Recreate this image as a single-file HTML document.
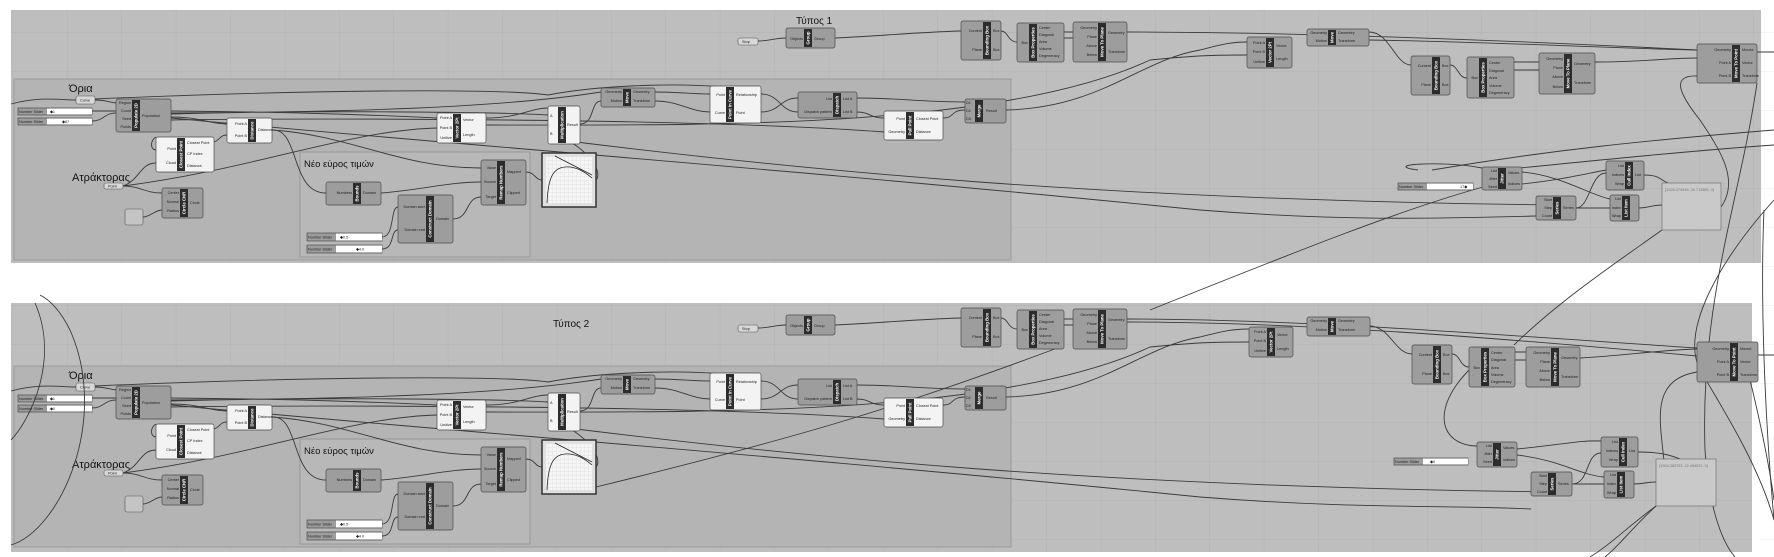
<!DOCTYPE html>
<html><head><meta charset="utf-8"><style>
html,body{margin:0;padding:0;background:#fff;}
svg{display:block}
.g{fill:#9d9d9d;stroke:#4a4a4a;stroke-width:.7}
.w{fill:#f3f3f3;stroke:#4a4a4a;stroke-width:.7}
.p{fill:#d8d8d8;stroke:#555;stroke-width:.6}
.s{fill:#2c2c2c}
.v{fill:#fff;font:bold 4.3px "Liberation Sans",sans-serif;text-anchor:middle}
.l{fill:#222;font:3.8px "Liberation Sans",sans-serif}
.r{fill:#222;font:3.8px "Liberation Sans",sans-serif;text-anchor:end}
.wr{fill:none;stroke:#3a3a3a;stroke-width:.9}
.t{fill:#111;font:11px "Liberation Sans","DejaVu Sans",sans-serif}
</style></head><body>
<svg width="1774" height="557" viewBox="0 0 1774 557" xmlns="http://www.w3.org/2000/svg">
<defs>
<pattern id="grid" x="12.6" y="32" width="54.4" height="39" patternUnits="userSpaceOnUse">
<path d="M0 0V39M0 0H54.4" stroke="#aeaeae" stroke-width=".7" fill="none"/></pattern>
<pattern id="gridw" x="12.6" y="32" width="54.4" height="39" patternUnits="userSpaceOnUse">
<path d="M0 0V39M0 0H54.4" stroke="#e6e6e6" stroke-width=".7" fill="none"/></pattern>
<pattern id="mg" width="4" height="4" patternUnits="userSpaceOnUse"><path d="M0 0V4M0 0H4" stroke="#ccc" stroke-width=".4" fill="none"/></pattern>
</defs>
<rect width="1774" height="557" fill="#fff"/>
<rect x="1760" y="0" width="14" height="557" fill="url(#gridw)"/>
<!-- panels -->
<rect x="11" y="10" width="1750" height="253" fill="#bebebe"/>
<rect x="11" y="10" width="1750" height="253" fill="url(#grid)"/>
<rect x="11" y="303" width="1741" height="249" fill="#bebebe"/>
<rect x="11" y="303" width="1741" height="249" fill="url(#grid)"/>

<!-- ============ TOP LEFT/MID ============ -->
<g id="top">
<rect x="14" y="79" width="997" height="181" fill="#b3b3b3" fill-opacity=".85" stroke="#9a9a9a"/>
<rect x="300" y="152" width="230" height="105" fill="#b8b8b8" stroke="#999"/>
<text class="t" x="69" y="92">Όρια</text>
<text class="t" x="72" y="181">Ατράκτορας</text>
<text class="t" x="304" y="167" style="font-size:9.5px">Νέο εύρος τιμών</text>
<text class="t" x="796" y="24" style="font-size:10px">Τύπος 1</text>
<!-- wires -->
<path class="wr" d="M11 104C40 96 60 100 76 100M95 100C105 100 108 102 116 103"/>
<path class="wr" d="M95 99C300 90 500 88 548 95C600 85 700 80 760 92"/>
<path class="wr" d="M92 111H116M92 121C104 121 104 113 116 113M171 117C200 117 210 124 227 124"/>
<path class="wr" d="M171 111C300 112 400 116 437 118M171 114C300 110 500 112 548 115M171 113C350 112 500 108 601 92"/>
<path class="wr" d="M171 120C300 118 700 118 884 132M171 118C400 140 800 170 1200 210C1350 222 1450 218 1536 216"/>
<path class="wr" d="M156 150C150 150 150 140 156 137M123 186C140 180 140 163 156 163M123 186C140 186 145 193 162 193M123 186C250 170 350 130 437 128"/>
<path class="wr" d="M214 142C220 140 220 135 227 135M272 130C300 128 290 193 326 193M272 130C350 135 400 168 481 168M381 193C420 190 450 182 481 182"/>
<path class="wr" d="M382 237C395 237 390 207 398 207M382 249C395 249 390 230 398 230M453 219C470 219 465 197 481 197M526 172C535 172 535 180 542 180"/>
<path class="wr" d="M143 217C150 217 155 210 162 210M596 180C605 170 580 140 548 133M580 124C595 124 590 101 601 101"/>
<path class="wr" d="M486 118C520 118 530 108 548 108M655 92C680 92 690 94 710 94M655 101C680 101 690 112 710 112"/>
<path class="wr" d="M761 94C780 94 780 112 798 112M761 112C780 112 780 98 798 98M857 98C900 98 920 102 965 102M857 112C870 112 870 118 884 118M943 118C955 118 950 110 965 110"/>
<path class="wr" d="M1006 110C1100 108 1140 60 1200 50C1220 45 1230 42 1247 42M486 125C700 125 1000 130 1150 60C1200 55 1220 55 1247 55"/>
<path class="wr" d="M560 140C800 170 1100 200 1560 205"/>
<path class="wr" d="M758 41C770 41 775 38 786 38M835 38C880 36 920 32 961 31M1001 31C1008 31 1008 42 1017 42M1064 32H1073M1064 38H1073M1127 32C1300 32 1500 40 1697 50"/>
<!-- components -->
<rect class="p" x="76" y="96" width="19" height="8" rx="2"/><text class="l" x="80" y="101.5">Curve</text>
<rect class="g" x="18" y="108" width="74" height="7"/><rect x="47" y="108.5" width="45" height="6" fill="#fff"/><text class="l" x="19" y="113">Number Slider</text><text class="l" x="50" y="113">◆1</text>
<rect class="g" x="18" y="118" width="74" height="7"/><rect x="47" y="118.5" width="45" height="6" fill="#fff"/><text class="l" x="19" y="123">Number Slider</text><text class="l" x="62" y="123">◆87</text>
<rect class="g" x="116" y="99" width="55" height="33" rx="2"/><rect class="s" x="132" y="100" width="8" height="31"/><text class="v" transform="translate(137.5,115.5) rotate(-90)">Populate 2D</text>
<text class="r" x="131" y="104">Region</text><text class="r" x="131" y="112">Count</text><text class="r" x="131" y="120">Seed</text><text class="r" x="131" y="128">Points</text><text class="l" x="142" y="117">Population</text>
<rect class="w" x="156" y="137" width="58" height="35" rx="2"/><rect class="s" x="177" y="138" width="8" height="33"/><text class="v" transform="translate(182.5,154.5) rotate(-90)">Closest Point</text>
<text class="r" x="176" y="150">Point</text><text class="r" x="176" y="164">Cloud</text><text class="l" x="187" y="144">Closest Point</text><text class="l" x="187" y="155">CP Index</text><text class="l" x="187" y="167">Distance</text>
<rect class="w" x="227" y="118" width="45" height="25" rx="2"/><rect class="s" x="248" y="119" width="8" height="23"/><text class="v" transform="translate(253.5,130.5) rotate(-90)">Distance</text>
<text class="r" x="247" y="125">Point A</text><text class="r" x="247" y="137">Point B</text><text class="l" x="258" y="131">Distance</text>
<rect class="p" x="104" y="183" width="19" height="6" rx="2"/><text class="l" x="108" y="187.5">Point</text>
<rect class="g" x="162" y="188" width="41" height="30" rx="2"/><rect class="s" x="180" y="189" width="8" height="28"/><text class="v" transform="translate(185.5,203) rotate(-90)">Circle CNR</text>
<text class="r" x="179" y="194">Center</text><text class="r" x="179" y="203">Normal</text><text class="r" x="179" y="212">Radius</text><text class="l" x="190" y="204">Circle</text>
<rect x="125" y="209" width="18" height="16" rx="2" fill="#c4c4c4" stroke="#555" stroke-width=".6"/>
<rect class="w" x="437" y="113" width="49" height="30" rx="2"/><rect class="s" x="453" y="114" width="8" height="28"/><text class="v" transform="translate(458.5,128) rotate(-90)">Vector 2Pt</text>
<text class="r" x="452" y="119">Point A</text><text class="r" x="452" y="129">Point B</text><text class="r" x="452" y="139">Unitize</text><text class="l" x="463" y="121">Vector</text><text class="l" x="463" y="136">Length</text>
<rect class="w" x="548" y="106" width="32" height="38" rx="2"/><rect class="s" x="558" y="107" width="8" height="36"/><text class="v" transform="translate(563.5,125) rotate(-90)">Multiplication</text>
<text class="l" x="550" y="117">A</text><text class="l" x="550" y="135">B</text><text class="l" x="567" y="126">Result</text>
<rect x="542" y="153" width="54" height="54" fill="#e0e0e0" stroke="#333" stroke-width="1.5"/><rect x="546" y="157" width="46" height="46" fill="#f5f5f5"/><rect x="546" y="157" width="46" height="46" fill="url(#mg)"/>
<path d="M547 203C548 180 552 168 565 167C575 166 585 172 592 178M555 156L592 175" fill="none" stroke="#222" stroke-width=".8"/>
<rect class="g" x="481" y="160" width="45" height="45" rx="2"/><rect class="s" x="497" y="161" width="8" height="43"/><text class="v" transform="translate(502.5,182.5) rotate(-90)">Remap Numbers</text>
<text class="r" x="496" y="169">Value</text><text class="r" x="496" y="183">Source</text><text class="r" x="496" y="198">Target</text><text class="l" x="507" y="173">Mapped</text><text class="l" x="507" y="194">Clipped</text>
<rect class="g" x="326" y="182" width="55" height="23" rx="2"/><rect class="s" x="353" y="183" width="8" height="21"/><text class="v" transform="translate(358.5,193.5) rotate(-90)">Bounds</text>
<text class="r" x="352" y="194">Numbers</text><text class="l" x="363" y="194">Domain</text>
<rect class="g" x="398" y="195" width="55" height="48" rx="2"/><rect class="s" x="426" y="196" width="8" height="46"/><text class="v" transform="translate(431.5,219) rotate(-90)">Construct Domain</text>
<text class="r" x="425" y="208">Domain start</text><text class="r" x="425" y="231">Domain end</text><text class="l" x="436" y="220">Domain</text>
<rect class="g" x="307" y="233" width="75" height="8"/><rect x="336" y="233.5" width="46" height="7" fill="#fff"/><text class="l" x="308" y="238.5">Number Slider</text><text class="l" x="340" y="238.5">◆0.5</text>
<rect class="g" x="307" y="245" width="75" height="8"/><rect x="336" y="245.5" width="46" height="7" fill="#fff"/><text class="l" x="308" y="250.5">Number Slider</text><text class="l" x="356" y="250.5">◆4.0</text>
<rect class="g" x="601" y="88" width="54" height="19" rx="2"/><rect class="s" x="623" y="89" width="8" height="17"/><text class="v" transform="translate(628.5,97.5) rotate(-90)">Move</text>
<text class="r" x="622" y="93">Geometry</text><text class="r" x="622" y="102">Motion</text><text class="l" x="633" y="93">Geometry</text><text class="l" x="633" y="102">Transform</text>
<rect class="w" x="710" y="86" width="51" height="37" rx="2"/><rect class="s" x="726" y="87" width="8" height="35"/><text class="v" transform="translate(731.5,104.5) rotate(-90)">Point In Curve</text>
<text class="r" x="725" y="96">Point</text><text class="r" x="725" y="114">Curve</text><text class="l" x="736" y="96">Relationship</text><text class="l" x="736" y="114">Point</text>
<rect class="g" x="798" y="92" width="59" height="26" rx="2"/><rect class="s" x="833" y="93" width="8" height="24"/><text class="v" transform="translate(838.5,105) rotate(-90)">Dispatch</text>
<text class="r" x="832" y="100">List</text><text class="r" x="832" y="113">Dispatch pattern</text><text class="l" x="843" y="100">List A</text><text class="l" x="843" y="113">List B</text>
<rect class="w" x="884" y="111" width="59" height="29" rx="2"/><rect class="s" x="906" y="112" width="8" height="27"/><text class="v" transform="translate(911.5,125.5) rotate(-90)">Pull Point</text>
<text class="r" x="905" y="120">Point</text><text class="r" x="905" y="133">Geometry</text><text class="l" x="916" y="120">Closest Point</text><text class="l" x="916" y="133">Distance</text>
<rect class="g" x="965" y="99" width="41" height="24" rx="2"/><rect class="s" x="975" y="100" width="8" height="22"/><text class="v" transform="translate(980.5,111) rotate(-90)">Merge</text>
<text class="l" x="966" y="104">D1</text><text class="l" x="966" y="112">D2</text><text class="l" x="966" y="120">D3</text><text class="l" x="986" y="112">Result</text>
<rect class="p" x="738" y="38" width="20" height="7" rx="2"/><text class="l" x="742" y="43">Stop</text>
<rect class="g" x="786" y="28" width="49" height="20" rx="2"/><rect class="s" x="804" y="29" width="8" height="18"/><text class="v" transform="translate(809.5,38) rotate(-90)">Group</text>
<text class="r" x="803" y="40">Objects</text><text class="l" x="814" y="40">Group</text>
<rect class="g" x="961" y="21" width="40" height="39" rx="2"/><rect class="s" x="983" y="22" width="8" height="37"/><text class="v" transform="translate(988.5,40.5) rotate(-90)">Bounding Box</text>
<text class="r" x="982" y="32">Content</text><text class="r" x="982" y="51">Plane</text><text class="l" x="993" y="32">Box</text><text class="l" x="993" y="51">Box</text>
<rect class="g" x="1017" y="23" width="47" height="39" rx="2"/><rect class="s" x="1029" y="24" width="8" height="37"/><text class="v" transform="translate(1034.5,42.5) rotate(-90)">Box Properties</text>
<text class="r" x="1028" y="44">Box</text><text class="l" x="1039" y="29">Center</text><text class="l" x="1039" y="36">Diagonal</text><text class="l" x="1039" y="43">Area</text><text class="l" x="1039" y="50">Volume</text><text class="l" x="1039" y="57">Degeneracy</text>
<rect class="g" x="1073" y="22" width="54" height="40" rx="2"/><rect class="s" x="1098" y="23" width="8" height="38"/><text class="v" transform="translate(1103.5,42) rotate(-90)">Move To Plane</text>
<text class="r" x="1097" y="29">Geometry</text><text class="r" x="1097" y="38">Plane</text><text class="r" x="1097" y="47">Above</text><text class="r" x="1097" y="56">Below</text><text class="l" x="1108" y="34">Geometry</text><text class="l" x="1108" y="53">Transform</text>
</g>

<!-- ============ BOTTOM LEFT/MID (copy) ============ -->
<g transform="translate(0,287)">
<rect x="14" y="79" width="997" height="181" fill="#b3b3b3" fill-opacity=".85" stroke="#9a9a9a"/>
<rect x="300" y="152" width="230" height="105" fill="#b8b8b8" stroke="#999"/>
<text class="t" x="69" y="92">Όρια</text>
<text class="t" x="72" y="181">Ατράκτορας</text>
<text class="t" x="304" y="167" style="font-size:9.5px">Νέο εύρος τιμών</text>
<text class="t" x="553" y="40" style="font-size:10px">Τύπος 2</text>
<path class="wr" d="M11 104C40 96 60 100 76 100M95 100C105 100 108 102 116 103"/>
<path class="wr" d="M95 99C300 90 500 88 548 95C600 85 700 80 760 92"/>
<path class="wr" d="M92 111H116M92 121C104 121 104 113 116 113M171 117C200 117 210 124 227 124"/>
<path class="wr" d="M171 111C300 112 400 116 437 118M171 114C300 110 500 112 548 115M171 113C350 112 500 108 601 92"/>
<path class="wr" d="M171 120C300 118 700 118 884 132M171 118C400 140 800 170 1200 210C1350 222 1450 218 1531 222"/>
<path class="wr" d="M156 150C150 150 150 140 156 137M123 186C140 180 140 163 156 163M123 186C140 186 145 193 162 193M123 186C250 170 350 130 437 128"/>
<path class="wr" d="M272 130C300 128 290 193 326 193M272 130C350 135 400 168 481 168M381 193C420 190 450 182 481 182M214 142C220 140 220 135 227 135"/>
<path class="wr" d="M382 237C395 237 390 207 398 207M382 249C395 249 390 230 398 230M453 219C470 219 465 197 481 197M526 172C535 172 535 180 542 180"/>
<path class="wr" d="M143 217C150 217 155 210 162 210M596 180C605 170 580 140 548 133M580 124C595 124 590 101 601 101"/>
<path class="wr" d="M486 118C520 118 530 108 548 108M655 92C680 92 690 94 710 94M655 101C680 101 690 112 710 112"/>
<path class="wr" d="M761 94C780 94 780 112 798 112M761 112C780 112 780 98 798 98M857 98C900 98 920 102 965 102M857 112C870 112 870 118 884 118M943 118C955 118 950 110 965 110"/>
<path class="wr" d="M1006 110C1100 108 1140 60 1200 50C1220 45 1230 42 1249 42M486 125C700 125 1000 130 1150 60C1200 55 1220 55 1249 55"/>
<path class="wr" d="M560 140C800 170 1100 200 1560 205"/>
<path class="wr" d="M596 200C800 150 900 120 1060 60"/>
<path class="wr" d="M758 41C770 41 775 38 786 38M835 38C880 36 920 32 961 31M1001 31C1008 31 1008 42 1017 42M1064 32H1073M1064 38H1073"/>
<rect class="p" x="76" y="96" width="19" height="8" rx="2"/><text class="l" x="80" y="101.5">Curve</text>
<rect class="g" x="18" y="108" width="74" height="7"/><rect x="47" y="108.5" width="45" height="6" fill="#fff"/><text class="l" x="19" y="113">Number Slider</text><text class="l" x="50" y="113">◆1</text>
<rect class="g" x="18" y="118" width="74" height="7"/><rect x="47" y="118.5" width="45" height="6" fill="#fff"/><text class="l" x="19" y="123">Number Slider</text><text class="l" x="50" y="123">◆0</text>
<rect class="g" x="116" y="99" width="55" height="33" rx="2"/><rect class="s" x="132" y="100" width="8" height="31"/><text class="v" transform="translate(137.5,115.5) rotate(-90)">Populate 2D</text>
<text class="r" x="131" y="104">Region</text><text class="r" x="131" y="112">Count</text><text class="r" x="131" y="120">Seed</text><text class="r" x="131" y="128">Points</text><text class="l" x="142" y="117">Population</text>
<rect class="w" x="156" y="137" width="58" height="35" rx="2"/><rect class="s" x="177" y="138" width="8" height="33"/><text class="v" transform="translate(182.5,154.5) rotate(-90)">Closest Point</text>
<text class="r" x="176" y="150">Point</text><text class="r" x="176" y="164">Cloud</text><text class="l" x="187" y="144">Closest Point</text><text class="l" x="187" y="155">CP Index</text><text class="l" x="187" y="167">Distance</text>
<rect class="w" x="227" y="118" width="45" height="25" rx="2"/><rect class="s" x="248" y="119" width="8" height="23"/><text class="v" transform="translate(253.5,130.5) rotate(-90)">Distance</text>
<text class="r" x="247" y="125">Point A</text><text class="r" x="247" y="137">Point B</text><text class="l" x="258" y="131">Distance</text>
<rect class="p" x="104" y="183" width="19" height="6" rx="2"/><text class="l" x="108" y="187.5">Point</text>
<rect class="g" x="162" y="188" width="41" height="30" rx="2"/><rect class="s" x="180" y="189" width="8" height="28"/><text class="v" transform="translate(185.5,203) rotate(-90)">Circle CNR</text>
<text class="r" x="179" y="194">Center</text><text class="r" x="179" y="203">Normal</text><text class="r" x="179" y="212">Radius</text><text class="l" x="190" y="204">Circle</text>
<rect x="125" y="209" width="18" height="16" rx="2" fill="#c4c4c4" stroke="#555" stroke-width=".6"/>
<rect class="w" x="437" y="113" width="49" height="30" rx="2"/><rect class="s" x="453" y="114" width="8" height="28"/><text class="v" transform="translate(458.5,128) rotate(-90)">Vector 2Pt</text>
<text class="r" x="452" y="119">Point A</text><text class="r" x="452" y="129">Point B</text><text class="r" x="452" y="139">Unitize</text><text class="l" x="463" y="121">Vector</text><text class="l" x="463" y="136">Length</text>
<rect class="w" x="548" y="106" width="32" height="38" rx="2"/><rect class="s" x="558" y="107" width="8" height="36"/><text class="v" transform="translate(563.5,125) rotate(-90)">Multiplication</text>
<text class="l" x="550" y="117">A</text><text class="l" x="550" y="135">B</text><text class="l" x="567" y="126">Result</text>
<rect x="542" y="153" width="54" height="54" fill="#e0e0e0" stroke="#333" stroke-width="1.5"/><rect x="546" y="157" width="46" height="46" fill="#f5f5f5"/><rect x="546" y="157" width="46" height="46" fill="url(#mg)"/>
<path d="M547 203C548 180 552 168 565 167C575 166 585 172 592 178M555 156L592 175" fill="none" stroke="#222" stroke-width=".8"/>
<rect class="g" x="481" y="160" width="45" height="45" rx="2"/><rect class="s" x="497" y="161" width="8" height="43"/><text class="v" transform="translate(502.5,182.5) rotate(-90)">Remap Numbers</text>
<text class="r" x="496" y="169">Value</text><text class="r" x="496" y="183">Source</text><text class="r" x="496" y="198">Target</text><text class="l" x="507" y="173">Mapped</text><text class="l" x="507" y="194">Clipped</text>
<rect class="g" x="326" y="182" width="55" height="23" rx="2"/><rect class="s" x="353" y="183" width="8" height="21"/><text class="v" transform="translate(358.5,193.5) rotate(-90)">Bounds</text>
<text class="r" x="352" y="194">Numbers</text><text class="l" x="363" y="194">Domain</text>
<rect class="g" x="398" y="195" width="55" height="48" rx="2"/><rect class="s" x="426" y="196" width="8" height="46"/><text class="v" transform="translate(431.5,219) rotate(-90)">Construct Domain</text>
<text class="r" x="425" y="208">Domain start</text><text class="r" x="425" y="231">Domain end</text><text class="l" x="436" y="220">Domain</text>
<rect class="g" x="307" y="233" width="75" height="8"/><rect x="336" y="233.5" width="46" height="7" fill="#fff"/><text class="l" x="308" y="238.5">Number Slider</text><text class="l" x="340" y="238.5">◆0.5</text>
<rect class="g" x="307" y="245" width="75" height="8"/><rect x="336" y="245.5" width="46" height="7" fill="#fff"/><text class="l" x="308" y="250.5">Number Slider</text><text class="l" x="356" y="250.5">◆4.0</text>
<rect class="g" x="601" y="88" width="54" height="19" rx="2"/><rect class="s" x="623" y="89" width="8" height="17"/><text class="v" transform="translate(628.5,97.5) rotate(-90)">Move</text>
<text class="r" x="622" y="93">Geometry</text><text class="r" x="622" y="102">Motion</text><text class="l" x="633" y="93">Geometry</text><text class="l" x="633" y="102">Transform</text>
<rect class="w" x="710" y="86" width="51" height="37" rx="2"/><rect class="s" x="726" y="87" width="8" height="35"/><text class="v" transform="translate(731.5,104.5) rotate(-90)">Point In Curve</text>
<text class="r" x="725" y="96">Point</text><text class="r" x="725" y="114">Curve</text><text class="l" x="736" y="96">Relationship</text><text class="l" x="736" y="114">Point</text>
<rect class="g" x="798" y="92" width="59" height="26" rx="2"/><rect class="s" x="833" y="93" width="8" height="24"/><text class="v" transform="translate(838.5,105) rotate(-90)">Dispatch</text>
<text class="r" x="832" y="100">List</text><text class="r" x="832" y="113">Dispatch pattern</text><text class="l" x="843" y="100">List A</text><text class="l" x="843" y="113">List B</text>
<rect class="w" x="884" y="111" width="59" height="29" rx="2"/><rect class="s" x="906" y="112" width="8" height="27"/><text class="v" transform="translate(911.5,125.5) rotate(-90)">Pull Point</text>
<text class="r" x="905" y="120">Point</text><text class="r" x="905" y="133">Geometry</text><text class="l" x="916" y="120">Closest Point</text><text class="l" x="916" y="133">Distance</text>
<rect class="g" x="965" y="99" width="41" height="24" rx="2"/><rect class="s" x="975" y="100" width="8" height="22"/><text class="v" transform="translate(980.5,111) rotate(-90)">Merge</text>
<text class="l" x="966" y="104">D1</text><text class="l" x="966" y="112">D2</text><text class="l" x="966" y="120">D3</text><text class="l" x="986" y="112">Result</text>
<rect class="p" x="738" y="38" width="20" height="7" rx="2"/><text class="l" x="742" y="43">Stop</text>
<rect class="g" x="786" y="28" width="49" height="20" rx="2"/><rect class="s" x="804" y="29" width="8" height="18"/><text class="v" transform="translate(809.5,38) rotate(-90)">Group</text>
<text class="r" x="803" y="40">Objects</text><text class="l" x="814" y="40">Group</text>
<rect class="g" x="961" y="21" width="40" height="39" rx="2"/><rect class="s" x="983" y="22" width="8" height="37"/><text class="v" transform="translate(988.5,40.5) rotate(-90)">Bounding Box</text>
<text class="r" x="982" y="32">Content</text><text class="r" x="982" y="51">Plane</text><text class="l" x="993" y="32">Box</text><text class="l" x="993" y="51">Box</text>
<rect class="g" x="1017" y="23" width="47" height="39" rx="2"/><rect class="s" x="1029" y="24" width="8" height="37"/><text class="v" transform="translate(1034.5,42.5) rotate(-90)">Box Properties</text>
<text class="r" x="1028" y="44">Box</text><text class="l" x="1039" y="29">Center</text><text class="l" x="1039" y="36">Diagonal</text><text class="l" x="1039" y="43">Area</text><text class="l" x="1039" y="50">Volume</text><text class="l" x="1039" y="57">Degeneracy</text>
<rect class="g" x="1073" y="22" width="54" height="40" rx="2"/><rect class="s" x="1098" y="23" width="8" height="38"/><text class="v" transform="translate(1103.5,42) rotate(-90)">Move To Plane</text>
<text class="r" x="1097" y="29">Geometry</text><text class="r" x="1097" y="38">Plane</text><text class="r" x="1097" y="47">Above</text><text class="r" x="1097" y="56">Below</text><text class="l" x="1108" y="34">Geometry</text><text class="l" x="1108" y="53">Transform</text>
</g>

<!-- ============ cross-panel & right wires ============ -->
<path class="wr" d="M35 303C60 360 30 420 11 440"/>
<path class="wr" d="M11 545C60 530 110 420 70 330C60 310 50 300 40 295"/>
<path class="wr" d="M1127 319C1300 319 1500 335 1697 348M1127 322C1300 322 1500 338 1697 356"/>
<path class="wr" d="M1150 310C1300 250 1400 210 1483 187"/>
<path class="wr" d="M1514 345C1560 300 1620 260 1662 230"/>
<path class="wr" d="M1656 506C1630 525 1610 545 1590 557"/>
<path class="wr" d="M1369 32C1390 32 1395 65 1411 65M1450 65C1458 65 1458 78 1467 78M1514 62H1539M1514 70H1539M1595 62C1640 62 1670 58 1697 58"/>
<path class="wr" d="M1369 40C1500 42 1600 48 1697 50"/>
<path class="wr" d="M1721 207C1740 180 1720 150 1700 120C1680 95 1670 75 1697 76"/>
<path class="wr" d="M1432 170C1550 150 1650 140 1774 130M1500 170C1600 160 1700 150 1774 145"/>
<path class="wr" d="M1418 170C1380 165 1440 160 1482 168M1522 172C1560 175 1590 195 1610 199M1522 184C1560 180 1580 175 1606 170M1576 208C1590 208 1590 173 1606 173M1576 208H1610M1639 208C1650 208 1650 205 1662 205M1644 175C1660 175 1660 180 1668 183"/>
<path class="wr" d="M1757 83C1740 200 1700 300 1705 450C1708 500 1720 540 1735 557"/>
<path class="wr" d="M1774 200C1720 260 1680 330 1700 370C1730 420 1760 470 1774 520"/>
<path class="wr" d="M1764 210C1760 300 1765 420 1774 520"/>
<path class="wr" d="M1369 326C1390 326 1395 354 1412 354M1452 354C1460 354 1460 367 1469 367M1515 352H1526M1515 360H1526M1580 358C1620 356 1660 350 1697 349"/>
<path class="wr" d="M1469 370C1430 410 1440 445 1477 446M1517 449C1560 445 1580 440 1601 441M1517 455C1560 460 1580 475 1604 477M1572 484C1590 484 1585 453 1601 453M1572 484H1604M1634 484C1645 484 1645 482 1656 482M1638 452C1660 452 1670 455 1680 459"/>
<path class="wr" d="M1664 461C1660 420 1650 380 1697 372"/>
<path class="wr" d="M1656 506C1630 530 1620 545 1605 557M1750 380C1760 420 1770 470 1774 500"/>
<path class="wr" d="M1758 355H1774M1757 52H1774"/>
<!-- ============ TOP RIGHT COMPONENTS ============ -->
<rect class="g" x="1247" y="37" width="45" height="31" rx="2"/><rect class="s" x="1266" y="38" width="8" height="29"/><text class="v" transform="translate(1271.5,52.5) rotate(-90)">Vector 2Pt</text>
<text class="r" x="1265" y="44">Point A</text><text class="r" x="1265" y="53">Point B</text><text class="r" x="1265" y="63">Unitize</text><text class="l" x="1276" y="47">Vector</text><text class="l" x="1276" y="60">Length</text>
<rect class="g" x="1307" y="29" width="62" height="17" rx="2"/><rect class="s" x="1328" y="30" width="8" height="15"/><text class="v" transform="translate(1333.5,37.5) rotate(-90)">Move</text>
<text class="r" x="1327" y="34">Geometry</text><text class="r" x="1327" y="42">Motion</text><text class="l" x="1338" y="34">Geometry</text><text class="l" x="1338" y="42">Transform</text>
<rect class="g" x="1411" y="56" width="39" height="39" rx="2"/><rect class="s" x="1432" y="57" width="8" height="37"/><text class="v" transform="translate(1437.5,75.5) rotate(-90)">Bounding Box</text>
<text class="r" x="1431" y="67">Content</text><text class="r" x="1431" y="86">Plane</text><text class="l" x="1442" y="67">Box</text><text class="l" x="1442" y="86">Box</text>
<rect class="g" x="1467" y="57" width="47" height="41" rx="2"/><rect class="s" x="1479" y="58" width="8" height="39"/><text class="v" transform="translate(1484.5,77.5) rotate(-90)">Box Properties</text>
<text class="r" x="1478" y="79">Box</text><text class="l" x="1489" y="64">Center</text><text class="l" x="1489" y="72">Diagonal</text><text class="l" x="1489" y="79">Area</text><text class="l" x="1489" y="87">Volume</text><text class="l" x="1489" y="94">Degeneracy</text>
<rect class="g" x="1539" y="53" width="56" height="41" rx="2"/><rect class="s" x="1564" y="54" width="8" height="39"/><text class="v" transform="translate(1569.5,73.5) rotate(-90)">Move To Plane</text>
<text class="r" x="1563" y="60">Geometry</text><text class="r" x="1563" y="69">Plane</text><text class="r" x="1563" y="78">Above</text><text class="r" x="1563" y="88">Below</text><text class="l" x="1574" y="65">Geometry</text><text class="l" x="1574" y="84">Transform</text>
<rect class="g" x="1697" y="44" width="60" height="39" rx="2"/><rect class="s" x="1732" y="45" width="8" height="37"/><text class="v" transform="translate(1737.5,63.5) rotate(-90)">Move To Point</text>
<text class="r" x="1731" y="51">Geometry</text><text class="r" x="1731" y="64">Point A</text><text class="r" x="1731" y="77">Point B</text><text class="l" x="1742" y="51">Moved</text><text class="l" x="1742" y="64">Vector</text><text class="l" x="1742" y="77">Transform</text>
<rect class="g" x="1482" y="167" width="40" height="23" rx="2"/><rect class="s" x="1498" y="168" width="8" height="21"/><text class="v" transform="translate(1503.5,178.5) rotate(-90)">Jitter</text>
<text class="r" x="1497" y="172">List</text><text class="r" x="1497" y="180">Jitter</text><text class="r" x="1497" y="188">Seed</text><text class="l" x="1508" y="174">Values</text><text class="l" x="1508" y="185">Indices</text>
<rect class="g" x="1398" y="183" width="75" height="7"/><rect x="1427" y="183.5" width="46" height="6" fill="#fff"/><text class="l" x="1399" y="188">Number Slider</text><text class="l" x="1460" y="188">17◆</text>
<rect class="g" x="1606" y="161" width="38" height="29" rx="2"/><rect class="s" x="1625" y="162" width="8" height="27"/><text class="v" transform="translate(1630.5,175.5) rotate(-90)">Cull Index</text>
<text class="r" x="1624" y="167">List</text><text class="r" x="1624" y="176">Indices</text><text class="r" x="1624" y="185">Wrap</text><text class="l" x="1635" y="176">List</text>
<rect class="g" x="1536" y="196" width="40" height="24" rx="2"/><rect class="s" x="1553" y="197" width="8" height="22"/><text class="v" transform="translate(1558.5,208) rotate(-90)">Series</text>
<text class="r" x="1552" y="201">Start</text><text class="r" x="1552" y="209">Step</text><text class="r" x="1552" y="217">Count</text><text class="l" x="1563" y="209">Series</text>
<rect class="g" x="1610" y="195" width="29" height="26" rx="2"/><rect class="s" x="1622" y="196" width="8" height="24"/><text class="v" transform="translate(1627.5,208) rotate(-90)">List Item</text>
<text class="r" x="1621" y="200">List</text><text class="r" x="1621" y="209">Index</text><text class="r" x="1621" y="217">Wrap</text>
<rect x="1662" y="183" width="59" height="47" fill="#c9c9c9" stroke="#666" stroke-width=".6"/><text class="l" x="1665" y="191" style="fill:#777">{1928.473949, 28.713369, 0}</text>
<!-- ============ BOTTOM RIGHT COMPONENTS ============ -->
<rect class="g" x="1249" y="327" width="44" height="30" rx="2"/><rect class="s" x="1267" y="328" width="8" height="28"/><text class="v" transform="translate(1272.5,342) rotate(-90)">Vector 2Pt</text>
<text class="r" x="1266" y="333">Point A</text><text class="r" x="1266" y="342">Point B</text><text class="r" x="1266" y="352">Unitize</text><text class="l" x="1277" y="336">Vector</text><text class="l" x="1277" y="350">Length</text>
<rect class="g" x="1307" y="317" width="63" height="19" rx="2"/><rect class="s" x="1328" y="318" width="8" height="17"/><text class="v" transform="translate(1333.5,326.5) rotate(-90)">Move</text>
<text class="r" x="1327" y="322">Geometry</text><text class="r" x="1327" y="331">Motion</text><text class="l" x="1338" y="322">Geometry</text><text class="l" x="1338" y="331">Transform</text>
<rect class="g" x="1412" y="345" width="40" height="39" rx="2"/><rect class="s" x="1433" y="346" width="8" height="37"/><text class="v" transform="translate(1438.5,364.5) rotate(-90)">Bounding Box</text>
<text class="r" x="1432" y="356">Content</text><text class="r" x="1432" y="375">Plane</text><text class="l" x="1443" y="356">Box</text><text class="l" x="1443" y="375">Box</text>
<rect class="g" x="1469" y="347" width="46" height="40" rx="2"/><rect class="s" x="1481" y="348" width="8" height="38"/><text class="v" transform="translate(1486.5,367) rotate(-90)">Box Properties</text>
<text class="r" x="1480" y="369">Box</text><text class="l" x="1491" y="354">Center</text><text class="l" x="1491" y="361">Diagonal</text><text class="l" x="1491" y="369">Area</text><text class="l" x="1491" y="376">Volume</text><text class="l" x="1491" y="383">Degeneracy</text>
<rect class="g" x="1526" y="347" width="54" height="40" rx="2"/><rect class="s" x="1551" y="348" width="8" height="38"/><text class="v" transform="translate(1556.5,367) rotate(-90)">Move To Plane</text>
<text class="r" x="1550" y="354">Geometry</text><text class="r" x="1550" y="363">Plane</text><text class="r" x="1550" y="372">Above</text><text class="r" x="1550" y="381">Below</text><text class="l" x="1561" y="359">Geometry</text><text class="l" x="1561" y="378">Transform</text>
<rect class="g" x="1697" y="342" width="61" height="40" rx="2"/><rect class="s" x="1730" y="343" width="8" height="38"/><text class="v" transform="translate(1735.5,362) rotate(-90)">Move To Point</text>
<text class="r" x="1729" y="350">Geometry</text><text class="r" x="1729" y="363">Point A</text><text class="r" x="1729" y="376">Point B</text><text class="l" x="1740" y="350">Moved</text><text class="l" x="1740" y="363">Vector</text><text class="l" x="1740" y="376">Transform</text>
<rect class="g" x="1477" y="442" width="40" height="25" rx="2"/><rect class="s" x="1493" y="443" width="8" height="23"/><text class="v" transform="translate(1498.5,454.5) rotate(-90)">Jitter</text>
<text class="r" x="1492" y="447">List</text><text class="r" x="1492" y="455">Jitter</text><text class="r" x="1492" y="463">Seed</text><text class="l" x="1503" y="449">Values</text><text class="l" x="1503" y="461">Indices</text>
<rect class="g" x="1394" y="458" width="74" height="7"/><rect x="1423" y="458.5" width="45" height="6" fill="#fff"/><text class="l" x="1395" y="463">Number Slider</text><text class="l" x="1430" y="463">◆0</text>
<rect class="g" x="1601" y="437" width="37" height="30" rx="2"/><rect class="s" x="1619" y="438" width="8" height="28"/><text class="v" transform="translate(1624.5,452) rotate(-90)">Cull Index</text>
<text class="r" x="1618" y="443">List</text><text class="r" x="1618" y="452">Indices</text><text class="r" x="1618" y="461">Wrap</text><text class="l" x="1629" y="452">List</text>
<rect class="g" x="1531" y="472" width="41" height="24" rx="2"/><rect class="s" x="1548" y="473" width="8" height="22"/><text class="v" transform="translate(1553.5,484) rotate(-90)">Series</text>
<text class="r" x="1547" y="477">Start</text><text class="r" x="1547" y="485">Step</text><text class="r" x="1547" y="493">Count</text><text class="l" x="1558" y="485">Series</text>
<rect class="g" x="1604" y="471" width="30" height="27" rx="2"/><rect class="s" x="1617" y="472" width="8" height="25"/><text class="v" transform="translate(1622.5,484.5) rotate(-90)">List Item</text>
<text class="r" x="1616" y="476">List</text><text class="r" x="1616" y="485">Index</text><text class="r" x="1616" y="494">Wrap</text>
<rect x="1656" y="459" width="60" height="47" fill="#c9c9c9" stroke="#666" stroke-width=".6"/><text class="l" x="1659" y="467" style="fill:#777">{1904.382793, 42.494031, 0}</text>
</svg>
</body></html>
